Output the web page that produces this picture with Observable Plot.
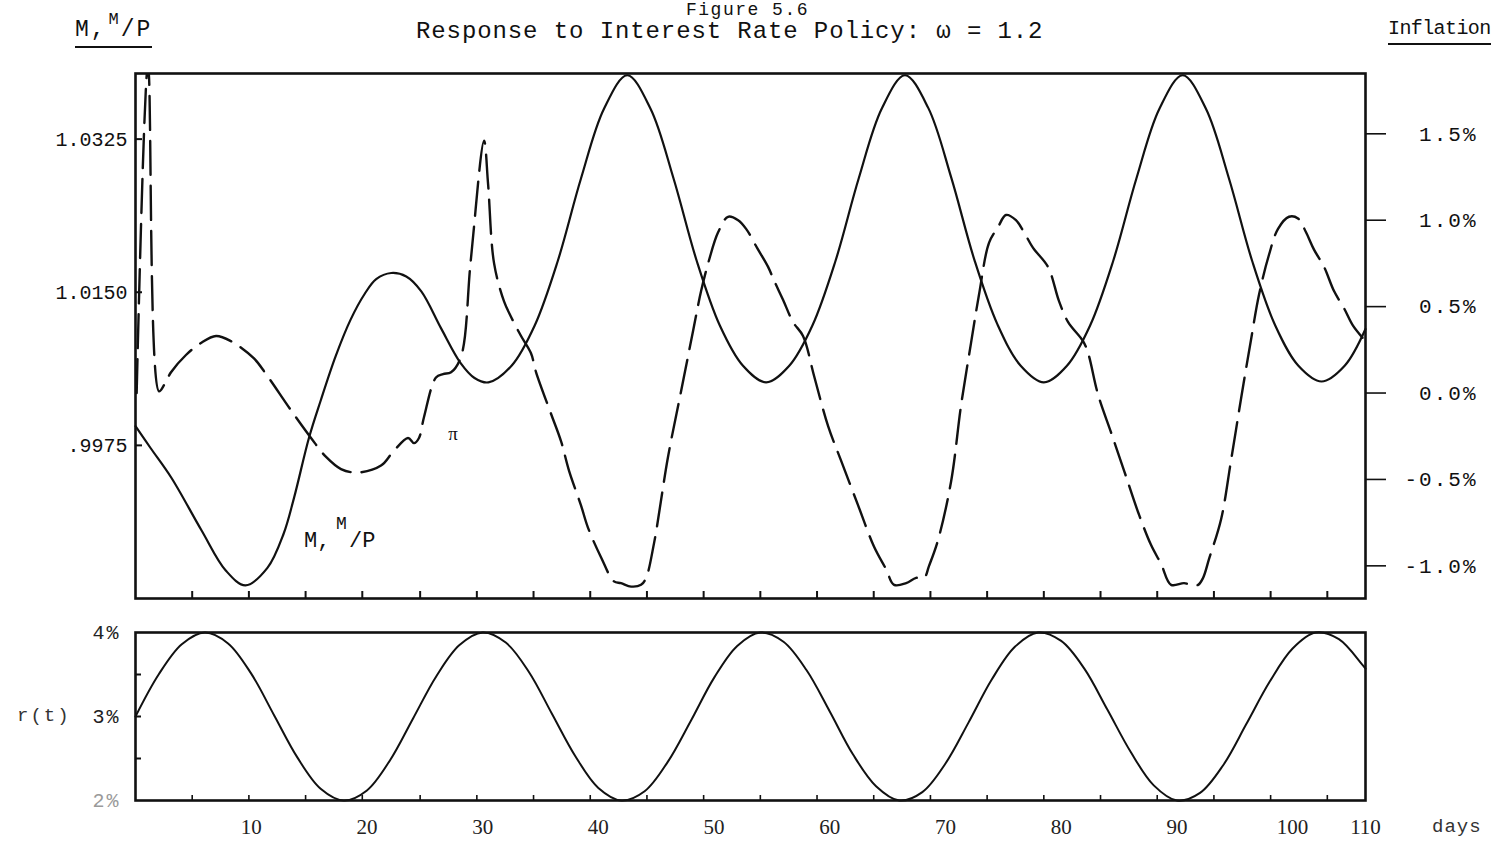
<!DOCTYPE html>
<html>
<head>
<meta charset="utf-8">
<script src="https://cdn.jsdelivr.net/npm/d3@7"></script>
<script src="https://cdn.jsdelivr.net/npm/@observablehq/plot@0.6"></script>
<style>
  html, body { margin: 0; padding: 0; background: #fff; overflow: hidden; }
  #page { position: relative; width: 1510px; height: 843px; background: #fff; color: #111;
          font-family: "Liberation Mono", "DejaVu Sans Mono", monospace; }
  .abs { position: absolute; white-space: nowrap; line-height: 1; }
  #page svg { position: absolute; left: 0; }
  #piChart g[aria-label="y-axis tick label"] { letter-spacing: 2px; }
  #rChart g[aria-label="y-axis tick label"] { letter-spacing: 2px; }
</style>
</head>
<body>
<div id="page">
  <div class="abs" style="left:686px; top:1px; font-size:18px; letter-spacing:1.5px;">Figure 5.6</div>
  <div class="abs" style="left:416px; top:20px; font-size:24px; letter-spacing:0.9px;">Response to Interest Rate Policy: ω = 1.2</div>
  <div class="abs" style="left:75px; top:19px; font-size:23px; letter-spacing:2px;">
    <span style="border-bottom:2px solid #111; padding-bottom:3px;">M,<span style="position:relative; top:-12px; font-size:17px; margin-left:2px;">M</span>/P</span>
  </div>
  <div class="abs" style="left:1388px; top:19px; font-size:20px; letter-spacing:-0.6px;">
    <span style="border-bottom:2px solid #111; padding-bottom:3px;">Inflation</span>
  </div>
  <div class="abs" style="left:17px; top:707px; font-size:19px; letter-spacing:2px; color:#333;">r(t)</div>
  <div class="abs" style="left:1432px; top:818px; font-size:19px; letter-spacing:1px; color:#333;">days</div>
  <div id="mChart"></div>
  <div id="piChart"></div>
  <div id="rChart"></div>
</div>
<script>
// ---- Money / real balances M, M/P (left scale of the upper panel) ----
const mDays = [0.0, 1.3, 3.1, 5.7, 7.8, 9.5, 11.4, 12.8, 13.7, 15.0, 16.0, 17.3, 18.6, 19.8, 20.8,
  22.1, 23.4, 24.7, 26.4, 28.1, 29.3, 30.5, 32.5, 34.5, 36.5, 38.5, 40.5, 42.5, 44.5, 46.5,
  48.5, 50.5, 52.5, 54.5, 56.5, 58.5, 60.5, 62.5, 64.5, 66.5, 68.5, 70.5, 72.5, 74.5, 76.5,
  78.5, 80.5, 82.5, 84.5, 86.5, 88.5, 90.5, 92.5, 94.5, 96.5, 98.5, 100.5, 102.5, 104.5, 106.3];
const mValues = [0.9997, 0.9972, 0.9938, 0.9878, 0.9832, 0.9815, 0.9835, 0.9874, 0.9915, 0.9984,
  1.0026, 1.0077, 1.0119, 1.0148, 1.0165, 1.0172, 1.0168, 1.0151, 1.0109, 1.0069, 1.0052,
  1.0047, 1.0066, 1.0112, 1.0186, 1.0280, 1.0360, 1.0398, 1.0360, 1.0280, 1.0186, 1.0112,
  1.0066, 1.0047, 1.0066, 1.0112, 1.0186, 1.0280, 1.0360, 1.0398, 1.0361, 1.0281, 1.0187,
  1.0113, 1.0066, 1.0047, 1.0066, 1.0112, 1.0186, 1.0280, 1.0360, 1.0398, 1.0360, 1.0280,
  1.0186, 1.0112, 1.0066, 1.0048, 1.0066, 1.0108];

// ---- Inflation π, percent (right scale of the upper panel) ----
const piDays = [0.1, 1.08, 2.03, 2.5, 3.07, 4.36, 5.66, 6.96, 8.25, 10.24, 11.28, 13.44, 15.17,
  16.47, 17.76, 19.23, 21.22, 22.26, 23.55, 24.07, 24.50, 24.93, 25.97, 26.58, 27.27, 28.13,
  28.98, 30.12, 30.47, 30.99, 31.85, 32.46, 33.32, 34.18, 34.62, 35.91, 36.78, 37.47, 38.50,
  39.11, 40.23, 41.35, 41.96, 42.83, 43.69, 44.12, 44.81, 46.02, 47.15, 48.19, 48.88, 49.57,
  50.35, 51.21, 52.08, 52.77, 53.72, 54.67, 55.19, 55.96, 56.83, 57.69, 58.64, 59.85, 60.97,
  62.45, 63.83, 64.87, 65.56, 66.60, 67.46, 68.15, 68.58, 69.36, 70.49, 71.35, 72.21, 72.90,
  73.77, 74.54, 75.23, 76.09, 76.79, 77.57, 78.86, 79.82, 80.60, 81.89, 82.33, 83.19, 84.32,
  85.44, 86.65, 87.77, 88.64, 89.50, 90.62, 91.23, 91.83, 92.26, 92.78, 93.82, 94.68, 95.55,
  96.41, 97.10, 97.96, 98.74, 99.69, 100.47, 101.16, 101.85, 102.72, 103.58, 104.45, 105.22,
  106.17, 106.3];
const piValues = [0.00, 1.90, 0.01, 0.05, 0.12, 0.22, 0.29, 0.33, 0.30, 0.20, 0.11, -0.10, -0.26,
  -0.37, -0.44, -0.46, -0.42, -0.34, -0.26, -0.29, -0.26, -0.14, 0.09, 0.11, 0.12, 0.21,
  0.77, 1.46, 1.21, 0.75, 0.53, 0.44, 0.33, 0.23, 0.12, -0.12, -0.28, -0.45, -0.65,
  -0.78, -0.95, -1.09, -1.10, -1.12, -1.11, -1.07, -0.87, -0.37, 0.01, 0.36, 0.59, 0.77,
  0.93, 1.02, 1.00, 0.95, 0.84, 0.73, 0.65, 0.54, 0.41, 0.33, 0.10, -0.19, -0.39,
  -0.65, -0.89, -1.02, -1.11, -1.10, -1.07, -1.07, -1.00, -0.85, -0.51, -0.07, 0.29, 0.57,
  0.87, 0.96, 1.03, 1.00, 0.93, 0.84, 0.73, 0.53, 0.41, 0.30, 0.23, -0.01, -0.23,
  -0.45, -0.69, -0.88, -0.99, -1.11, -1.10, -1.11, -1.11, -1.07, -0.96, -0.73, -0.39, -0.03,
  0.31, 0.57, 0.80, 0.95, 1.02, 1.01, 0.93, 0.83, 0.73, 0.59, 0.49, 0.39,
  0.31, 0.30];

// ---- Interest rate r(t), percent (lower panel) ----
const rDays = [0, 2, 4, 6, 8, 10, 12, 14, 16, 18, 20, 22, 24, 26, 28, 30, 32, 34, 36, 38, 40,
  42, 44, 46, 48, 50, 52, 54, 56, 58, 60, 62, 64, 66, 68, 70, 72, 74, 76, 78, 80, 82, 84,
  86, 88, 90, 92, 94, 96, 98, 100, 102, 104, 106, 106.3];
const rValues = [3.00, 3.50, 3.86, 4.00, 3.87, 3.51, 3.01, 2.51, 2.14, 2.00, 2.12, 2.48, 2.98,
  3.48, 3.85, 4.00, 3.88, 3.53, 3.03, 2.53, 2.15, 2.00, 2.11, 2.46, 2.95, 3.46, 3.84, 4.00,
  3.89, 3.55, 3.06, 2.55, 2.17, 2.00, 2.10, 2.44, 2.93, 3.44, 3.83, 4.00, 3.90, 3.57, 3.08,
  2.58, 2.18, 2.00, 2.09, 2.42, 2.91, 3.41, 3.81, 4.00, 3.92, 3.62, 3.57];

// ---- Axis ticks and labels ----
const dayEnd = 106.3;
const dayTicks = [10, 20, 30, 40, 50, 60, 70, 80, 90, 100, dayEnd];
const dayTickLabels = ["10", "20", "30", "40", "50", "60", "70", "80", "90", "100", "110"];
const minorDayTicks = [4.9, 9.8, 14.7, 19.6, 24.6, 29.5, 34.4, 39.3, 44.2, 49.1, 54.0, 58.9,
  63.8, 68.7, 73.6, 78.5, 83.4, 88.3, 93.2, 98.1, 103.0];
const mTicks = [0.9975, 1.0150, 1.0325];
const mTickLabels = [".9975", "1.0150", "1.0325"];
const piTicks = [-1.0, -0.5, 0.0, 0.5, 1.0, 1.5];
const piTickLabels = ["-1.0%", "-0.5%", "0.0%", "0.5%", "1.0%", "1.5%"];
const rTicks = [2, 3, 4];
const rTickLabels = ["2%", "3%", "4%"];
const rMinorTicks = [2.5, 3, 3.5];

// In-plot labels
const mLabelPos = [{t: 14.56, v: 0.9867}];
const piLabelPos = [{t: 27.44, v: -0.234}];

const MONO = "Liberation Mono, DejaVu Sans Mono, monospace";
const SERIF = "Liberation Serif, DejaVu Serif, serif";
const INK = "#111";

const mRows = d3.zip(mDays, mValues).map(([t, v]) => ({t, v}));
const piRows = d3.zip(piDays, piValues).map(([t, v]) => ({t, v}));
const rRows = d3.zip(rDays, rValues).map(([t, v]) => ({t, v}));
const mLabelOf = new Map(d3.zip(mTicks, mTickLabels));
const piLabelOf = new Map(d3.zip(piTicks, piTickLabels));
const rLabelOf = new Map(d3.zip(rTicks, rTickLabels));
const dayLabelOf = new Map(d3.zip(dayTicks, dayTickLabels));

const common = {
  width: 1510,
  marginLeft: 135, marginRight: 145,
  style: {background: "transparent", overflow: "visible"}
};

// Upper panel, left scale: M, M/P
const mChart = Plot.plot({
  ...common,
  height: 620, marginTop: 73, marginBottom: 22,
  x: {domain: [0, dayEnd], axis: null},
  y: {domain: [0.98, 1.04], axis: null},
  marks: [
    Plot.axisY(mTicks, {anchor: "left", tickSize: 0, tickPadding: 8, label: null,
      tickFormat: (d) => mLabelOf.get(d), fontSize: 20, fontFamily: MONO, color: INK}),
    Plot.axisY(mTicks, {anchor: "left", tickSize: 7, insetLeft: 7, label: null,
      color: "none", stroke: INK, strokeWidth: 2}),
    Plot.axisX(minorDayTicks, {anchor: "bottom", tickSize: 7, insetBottom: 7, label: null,
      color: "none", stroke: INK, strokeWidth: 2}),
    Plot.line(mRows, {x: "t", y: "v", curve: "catmull-rom", stroke: INK, strokeWidth: 2.2}),
    Plot.text(mLabelPos, {x: "t", y: "v", text: () => "M,", textAnchor: "start",
      fontSize: 22, fontFamily: MONO, fill: INK}),
    Plot.text(mLabelPos, {x: "t", y: "v", text: () => "M", textAnchor: "start", dx: 32, dy: -17,
      fontSize: 18, fontFamily: MONO, fill: INK}),
    Plot.text(mLabelPos, {x: "t", y: "v", text: () => "/P", textAnchor: "start", dx: 45,
      fontSize: 22, fontFamily: MONO, fill: INK}),
    Plot.frame({stroke: INK, strokeWidth: 2.6})
  ]
});
mChart.style.top = "0px";
document.getElementById("mChart").append(mChart);

// Upper panel, right scale: inflation π
const piChart = Plot.plot({
  ...common,
  height: 620, marginTop: 73, marginBottom: 22,
  x: {domain: [0, dayEnd], axis: null},
  y: {domain: [-1.189, 1.849], axis: null},
  marks: [
    Plot.axisY(piTicks, {anchor: "right", tickSize: 20, tickPadding: 92, textAnchor: "end",
      label: null, tickFormat: (d) => piLabelOf.get(d), fontSize: 21, fontFamily: MONO,
      color: INK, strokeWidth: 1.6}),
    Plot.line(piRows, {x: "t", y: "v", curve: "catmull-rom", stroke: INK, strokeWidth: 2.4,
      strokeDasharray: "34,11", clip: true}),
    Plot.text(piLabelPos, {x: "t", y: "v", text: () => "π", fontSize: 19, fontFamily: SERIF,
      fill: INK})
  ]
});
piChart.style.top = "0px";
document.getElementById("piChart").append(piChart);

// Lower panel: interest rate r(t)
const rChart = Plot.plot({
  ...common,
  height: 243, marginTop: 32, marginBottom: 43,
  x: {domain: [0, dayEnd], axis: null},
  y: {domain: [2, 4], axis: null},
  marks: [
    Plot.axisY(rTicks.filter((d) => d !== 2), {anchor: "left", tickSize: 0, tickPadding: 15,
      label: null, tickFormat: (d) => rLabelOf.get(d), fontSize: 20, fontFamily: MONO, color: "#222"}),
    Plot.axisY(rTicks.filter((d) => d === 2), {anchor: "left", tickSize: 0, tickPadding: 15,
      label: null, tickFormat: (d) => rLabelOf.get(d), fontSize: 20, fontFamily: MONO, color: "#9a9a9a"}),
    Plot.axisY(rMinorTicks, {anchor: "left", tickSize: 6, insetLeft: 6, label: null,
      color: "none", stroke: INK, strokeWidth: 2}),
    Plot.axisX(minorDayTicks, {anchor: "bottom", tickSize: 5, insetBottom: 5, label: null,
      color: "none", stroke: INK, strokeWidth: 1.6}),
    Plot.axisX(dayTicks, {anchor: "bottom", tickSize: 0, tickPadding: 19, label: null,
      tickFormat: (d) => dayLabelOf.get(d), fontSize: 21, fontFamily: SERIF, color: "#222"}),
    Plot.line(rRows, {x: "t", y: "v", curve: "catmull-rom", stroke: INK, strokeWidth: 2}),
    Plot.frame({stroke: INK, strokeWidth: 2.6})
  ]
});
rChart.style.top = "600px";
document.getElementById("rChart").append(rChart);
</script>
</body>
</html>
